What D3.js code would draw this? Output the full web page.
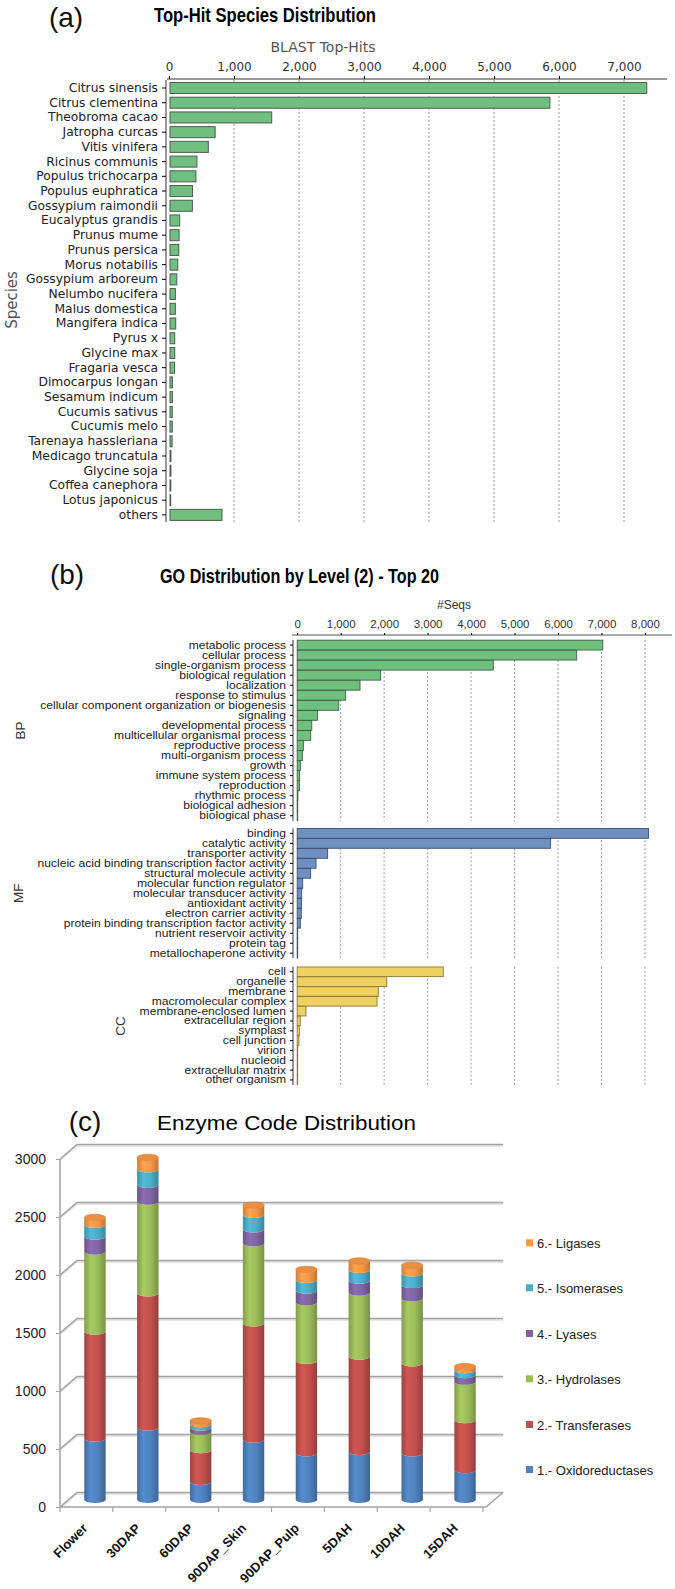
<!DOCTYPE html>
<meta charset="utf-8">
<html>
<head>
<script src="https://cdn.jsdelivr.net/npm/d3@7"></script>
<style>
  body { margin: 0; background: #fff; }
  svg { display: block; background: #fff; }
  .narrow { font-family: "Liberation Sans Narrow", "Arial Narrow", "Liberation Sans", Arial, sans-serif; }
  .tah { font-family: "DejaVu Sans", Tahoma, Verdana, sans-serif; }
  .ari { font-family: "Liberation Sans", Arial, sans-serif; }
</style>
</head>
<body>
<div id="chart"></div>
<script>
// ---------- (a) top-hit species ----------
const species = ["Citrus sinensis", "Citrus clementina", "Theobroma cacao", "Jatropha curcas",
  "Vitis vinifera", "Ricinus communis", "Populus trichocarpa", "Populus euphratica",
  "Gossypium raimondii", "Eucalyptus grandis", "Prunus mume", "Prunus persica",
  "Morus notabilis", "Gossypium arboreum", "Nelumbo nucifera", "Malus domestica",
  "Mangifera indica", "Pyrus x", "Glycine max", "Fragaria vesca", "Dimocarpus longan",
  "Sesamum indicum", "Cucumis sativus", "Cucumis melo", "Tarenaya hassleriana",
  "Medicago truncatula", "Glycine soja", "Coffea canephora", "Lotus japonicus", "others"];
const topHits = [7350, 5860, 1580, 710, 605, 430, 414, 362, 360, 165, 155, 150,
  135, 120, 98, 98, 103, 88, 88, 85, 52, 52, 50, 50, 48, 30, 30, 28, 26, 815];
const topHitTicks = [0, 1000, 2000, 3000, 4000, 5000, 6000, 7000];

// ---------- (b) GO level 2 ----------
const bpTerms = ["metabolic process", "cellular process", "single-organism process",
  "biological regulation", "localization", "response to stimulus",
  "cellular component organization or biogenesis", "signaling", "developmental process",
  "multicellular organismal process", "reproductive process", "multi-organism process",
  "growth", "immune system process", "reproduction", "rhythmic process",
  "biological adhesion", "biological phase"];
const bpSeqs = [7030, 6430, 4510, 1920, 1445, 1115, 955, 470, 335, 310, 142, 118,
  72, 57, 50, 15, 10, 5];
const mfTerms = ["binding", "catalytic activity", "transporter activity",
  "nucleic acid binding transcription factor activity", "structural molecule activity",
  "molecular function regulator", "molecular transducer activity", "antioxidant activity",
  "electron carrier activity", "protein binding transcription factor activity",
  "nutrient reservoir activity", "protein tag", "metallochaperone activity"];
const mfSeqs = [8080, 5830, 700, 433, 310, 126, 103, 100, 95, 72, 3, 2, 1];
const ccTerms = ["cell", "organelle", "membrane", "macromolecular complex",
  "membrane-enclosed lumen", "extracellular region", "symplast", "cell junction",
  "virion", "nucleoid", "extracellular matrix", "other organism"];
const ccSeqs = [3360, 2060, 1866, 1836, 202, 72, 48, 40, 5, 5, 5, 3];
const seqTicks = [0, 1000, 2000, 3000, 4000, 5000, 6000, 7000, 8000];

// ---------- (c) enzyme codes ----------
const samples = ["Flower", "30DAP", "60DAP", "90DAP_Skin", "90DAP_Pulp", "5DAH", "10DAH", "15DAH"];
const enzymeClasses = ["1.- Oxidoreductases", "2.- Transferases", "3.- Hydrolases",
  "4.- Lyases", "5.- Isomerases", "6.- Ligases"];
const oxidoreductases = [529, 624, 155, 520, 400, 414, 400, 256];
const transferases    = [921, 1156, 274, 1001, 799, 820, 776, 432];
const hydrolases      = [690, 791, 158, 690, 503, 552, 561, 330];
const lyases          = [129, 144, 37, 121, 101, 104, 115, 58];
const isomerases      = [101, 135, 29, 124, 93, 92, 101, 43];
const ligases         = [63, 101, 27, 83, 90, 77, 69, 29];
const enzymeTicks = [0, 500, 1000, 1500, 2000, 2500, 3000];
const enzymeColors = ["#4f81bd", "#c0504d", "#9bbb59", "#8064a2", "#4bacc6", "#f79646"];

const svg = d3.select("#chart").append("svg")
    .attr("width", 675)
    .attr("height", 1589);

// panel letters + titles
function panelLetter(t, x, y) {
  svg.append("text").attr("class", "ari").attr("x", x).attr("y", y)
    .attr("text-anchor", "middle").style("font-size", "28px").attr("fill", "#111").text(t);
}
panelLetter("(a)", 66, 27);
panelLetter("(b)", 67, 584);
panelLetter("(c)", 85, 1131);

svg.append("text").attr("class", "narrow").attr("x", 154).attr("y", 22)
  .style("font-size", "21px").style("font-weight", "bold")
  .attr("textLength", 222).attr("lengthAdjust", "spacingAndGlyphs")
  .text("Top-Hit Species Distribution");
svg.append("text").attr("class", "narrow").attr("x", 160).attr("y", 583)
  .style("font-size", "21px").style("font-weight", "bold")
  .attr("textLength", 279).attr("lengthAdjust", "spacingAndGlyphs")
  .text("GO Distribution by Level (2) - Top 20");
svg.append("text").attr("class", "ari").attr("x", 157).attr("y", 1130)
  .style("font-size", "21px")
  .attr("textLength", 259).attr("lengthAdjust", "spacingAndGlyphs")
  .text("Enzyme Code Distribution");

// ================= (a) =================
const xA = d3.scaleLinear().domain([0, 7600]).range([169, 169 + 7600 * 0.065]);
const yA = d3.scaleBand().domain(species)
  .range([88 - 7.36, 88 + 29 * 14.72 + 7.36]).paddingInner(0.25).paddingOuter(0.125);

const gA = svg.append("g");
gA.selectAll(".gridA").data(topHitTicks.slice(1)).join("line")
  .attr("x1", d => xA(d)).attr("x2", d => xA(d))
  .attr("y1", 80).attr("y2", 522)
  .attr("stroke", "#9a9a9a").attr("stroke-dasharray", "2,2");

gA.selectAll(".barA").data(species).join("rect")
  .attr("x", xA(0) + 1)
  .attr("y", d => yA(d))
  .attr("width", (d, i) => xA(topHits[i]) - xA(0) - 1)
  .attr("height", yA.bandwidth())
  .attr("fill", "#71bf80").attr("stroke", "#4b5e4f").attr("stroke-width", 1);

const axA = gA.append("g").attr("transform", "translate(0,79)")
  .call(d3.axisTop(xA).tickValues(topHitTicks).tickFormat(d3.format(",")).tickSize(3).tickPadding(5));
axA.select(".domain").attr("d", "M167,0H667").attr("stroke", "#333");
axA.selectAll("text").attr("class", "tah").style("font-size", "12px").attr("fill", "#333");

const ayA = gA.append("g").attr("transform", "translate(166,0)")
  .call(d3.axisLeft(yA).tickSize(4).tickPadding(4));
ayA.select(".domain").attr("d", "M0,80V522").attr("stroke", "#333");
ayA.selectAll("text").attr("class", "tah").style("font-size", "12.3px").attr("fill", "#222");

gA.append("text").attr("class", "tah").attr("x", 323).attr("y", 52)
  .attr("text-anchor", "middle").style("font-size", "14px").attr("fill", "#555").text("BLAST Top-Hits");
gA.append("text").attr("class", "tah").attr("transform", "translate(17,300) rotate(-90)")
  .attr("text-anchor", "middle").style("font-size", "15px").attr("fill", "#555").text("Species");

// ================= (b) =================
const xB = d3.scaleLinear().domain([0, 8620]).range([297.2, 297.2 + 8620 * 0.04347]);
const gB = svg.append("g");
const axB = gB.append("g").attr("transform", "translate(0,635)")
  .call(d3.axisTop(xB).tickValues(seqTicks).tickFormat(d3.format(",")).tickSize(2).tickPadding(5));
axB.select(".domain").attr("d", "M292,0H672").attr("stroke", "#555");
axB.selectAll("text").attr("class", "ari").style("font-size", "11.5px").attr("fill", "#333");
gB.append("text").attr("class", "ari").attr("x", 454).attr("y", 609)
  .attr("text-anchor", "middle").style("font-size", "12px").attr("fill", "#333").text("#Seqs");

const goGroups = [
  {name: "BP", terms: bpTerms, vals: bpSeqs, first: 645, step: 10.05, fill: "#6fbf7e", stroke: "#3f5f45"},
  {name: "MF", terms: mfTerms, vals: mfSeqs, first: 833.3, step: 10.0, fill: "#6f8fc0", stroke: "#3b4f6e"},
  {name: "CC", terms: ccTerms, vals: ccSeqs, first: 971.7, step: 9.85, fill: "#eed162", stroke: "#8a7a30"}
];

const labelStretch = 1.12;
goGroups.forEach(grp => {
  const n = grp.terms.length;
  const top = grp.first - grp.step / 2, bottom = grp.first + (n - 0.5) * grp.step;
  const y = d3.scaleBand().domain(grp.terms).range([top, bottom]).padding(0.02);
  const g = gB.append("g");

  g.selectAll(".grid").data(seqTicks.slice(1)).join("line")
    .attr("x1", d => xB(d)).attr("x2", d => xB(d))
    .attr("y1", top).attr("y2", bottom)
    .attr("stroke", "#9a9a9a").attr("stroke-dasharray", "2,2");

  g.selectAll(".bar").data(grp.terms).join("rect")
    .attr("x", xB(0))
    .attr("y", d => y(d))
    .attr("width", (d, i) => Math.max(0.5, xB(grp.vals[i]) - xB(0)))
    .attr("height", y.bandwidth())
    .attr("fill", grp.fill).attr("stroke", grp.stroke).attr("stroke-width", 0.9);

  const ay = g.append("g").attr("transform", "translate(293,0)")
    .call(d3.axisLeft(y).tickSize(3).tickPadding(4));
  ay.select(".domain").attr("d", `M0,${top}V${bottom}`).attr("stroke", "#333");
  // tall-ish rows of 10px: keep glyph height small, widen horizontally like the original
  ay.selectAll("text").attr("class", "ari").style("font-size", "10.8px").attr("fill", "#222")
    .attr("x", -7 / labelStretch).attr("transform", `scale(${labelStretch},1)`);

  let minX = 1000;
  ay.selectAll("text").each(function() {
    const len = this.getComputedTextLength() * labelStretch;
    minX = Math.min(minX, 293 - 7 - len);
  });
  g.append("text").attr("class", "ari")
    .attr("transform", `translate(${minX - 15},${(top + bottom) / 2}) rotate(-90)`)
    .attr("text-anchor", "middle").style("font-size", "13.5px").attr("fill", "#333").text(grp.name);
});

// ================= (c) =================
const depth = {dx: 17, dy: -14.5};
const xC = d3.scaleBand().domain(samples).range([60, 483]);
const yC = d3.scaleLinear().domain([0, 3000]).range([1507, 1159]);
const gC = svg.append("g");

const defs = svg.append("defs");
enzymeColors.forEach((c, i) => {
  const base = d3.color(c);
  const grad = defs.append("linearGradient").attr("id", "cyl" + i)
    .attr("x1", 0).attr("x2", 1).attr("y1", 0).attr("y2", 0);
  grad.append("stop").attr("offset", "0%").attr("stop-color", base.darker(0.5));
  grad.append("stop").attr("offset", "30%").attr("stop-color", base.brighter(0.25));
  grad.append("stop").attr("offset", "65%").attr("stop-color", base);
  grad.append("stop").attr("offset", "100%").attr("stop-color", base.darker(0.7));
});

// back-wall gridlines with left connectors
enzymeTicks.forEach(v => {
  const yb = yC(v) + depth.dy;
  gC.append("path")
    .attr("d", `M60,${yC(v)}L${60 + depth.dx},${yb}H503`)
    .attr("fill", "none").attr("stroke", "#dedede").attr("stroke-width", 1.5)
    .attr("transform", "translate(0,1.5)");
  gC.append("path")
    .attr("d", `M60,${yC(v)}L${60 + depth.dx},${yb}H503`)
    .attr("fill", "none").attr("stroke", "#a3a3a3").attr("stroke-width", 1.5);
});
// floor
gC.append("path").attr("d", `M60,${yC(0)}H486L503,${yC(0) + depth.dy}`)
  .attr("fill", "none").attr("stroke", "#a3a3a3").attr("stroke-width", 1.5);

const axC = gC.append("g").attr("transform", "translate(60,0)")
  .call(d3.axisLeft(yC).tickValues(enzymeTicks).tickFormat(d3.format("d")).tickSize(4).tickPadding(10));
axC.select(".domain").attr("stroke", "#a3a3a3").attr("stroke-width", 1.5)
  .attr("d", `M0,${yC(3000)}V${yC(0)}`);
axC.selectAll(".tick line").attr("stroke", "#a3a3a3");
axC.selectAll("text").attr("class", "ari").style("font-size", "14px").attr("fill", "#222");

// category ticks and rotated labels
const bottomTicks = samples.map(s => xC(s)).concat([xC.range()[1]]);
gC.selectAll(".xtick").data(bottomTicks).join("line")
  .attr("x1", d => d).attr("x2", d => d)
  .attr("y1", yC(0)).attr("y2", yC(0) + 5)
  .attr("stroke", "#a3a3a3").attr("stroke-width", 1.2);
gC.selectAll(".xlab").data(samples).join("text")
  .attr("class", "ari")
  .attr("transform", d => `translate(${xC(d) + xC.bandwidth() / 2 + 2},${yC(0) + 22}) rotate(-45)`)
  .attr("text-anchor", "end")
  .style("font-size", "13px").style("font-weight", "bold").attr("fill", "#111")
  .text(d => d);

// stacked cylinders
const enzymeRows = samples.map((s, i) => ({
  sample: s, c0: oxidoreductases[i], c1: transferases[i], c2: hydrolases[i],
  c3: lyases[i], c4: isomerases[i], c5: ligases[i]
}));
const stacked = d3.stack().keys(["c0", "c1", "c2", "c3", "c4", "c5"])(enzymeRows);
const rx = 10.7, ry = 3.2;
const barY = v => yC(v) + depth.dy / 2;
const barX = s => xC(s) + xC.bandwidth() / 2 + depth.dx / 2;

samples.forEach((s, i) => {
  const cx = barX(s);
  stacked.forEach((layer, k) => {
    const yb = barY(layer[i][0]), yt = barY(layer[i][1]);
    gC.append("path")
      .attr("d", `M${cx - rx},${yt}A${rx},${ry} 0 0 0 ${cx + rx},${yt}L${cx + rx},${yb}A${rx},${ry} 0 0 1 ${cx - rx},${yb}Z`)
      .attr("fill", `url(#cyl${k})`);
  });
  const top = barY(stacked[5][i][1]);
  gC.append("ellipse").attr("cx", cx).attr("cy", top).attr("rx", rx).attr("ry", ry)
    .attr("fill", d3.color(enzymeColors[5]).darker(0.15)).attr("stroke", "#d9782f").attr("stroke-width", 0.6);
});

// legend
const legY = [1470, 1425, 1379.3, 1334, 1288.3, 1243.3];
enzymeClasses.forEach((name, i) => {
  gC.append("rect").attr("x", 526).attr("y", legY[i] - 4).attr("width", 7).attr("height", 7)
    .attr("fill", enzymeColors[i]);
  gC.append("text").attr("class", "ari").attr("x", 537).attr("y", legY[i]).attr("dy", "0.35em")
    .style("font-size", "13px").attr("fill", "#222").text(name);
});
</script>
</body>
</html>
